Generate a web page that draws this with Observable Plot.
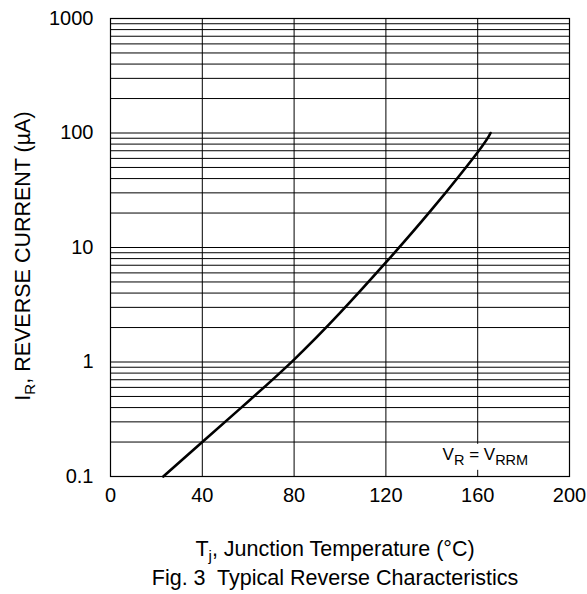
<!DOCTYPE html>
<html>
<head>
<meta charset="utf-8">
<script src="https://cdn.jsdelivr.net/npm/d3@7"></script>
<script src="https://cdn.jsdelivr.net/npm/@observablehq/plot@0.6"></script>
<style>
  html, body { margin: 0; padding: 0; background: #fff; }
  #chart { width: 587px; height: 594px; }
</style>
</head>
<body>
<div id="chart"></div>
<script>
// ---- data ----
const tempC     = [23,  40,    60,    80,   100,  120, 140,  160, 165.6];
const currentUA = [0.1, 0.200, 0.452, 1.05, 2.68, 7.4, 21.5, 68,  100];

const xTicks = [0, 40, 80, 120, 160, 200];
const yTicks = [0.1, 1, 10, 100, 1000];
const yTickLabels = ["0.1", "1", "10", "100", "1000"];
const gridDecades = [0.1, 1, 10, 100];
const gridMultipliers = [1, 2, 3, 4, 5, 6, 7, 8, 9];
const yGrid = gridDecades.flatMap(d => gridMultipliers.map(m => +(d * m).toPrecision(3))).concat([1000]);

const annotation = [{t: 144.7, i: 0.156, label: "VR = VRRM"}];

const FONT = "'Liberation Sans', Arial, Helvetica, sans-serif";

const svg = Plot.plot({
  width: 587,
  height: 594,
  marginLeft: 110,
  marginRight: 18,
  marginTop: 18,
  marginBottom: 118,
  style: {fontFamily: FONT, fontSize: "20px", color: "black", background: "white", overflow: "visible"},
  x: {domain: [0, 200]},
  y: {type: "log", domain: [0.1, 1000]},
  marks: [
    Plot.ruleY(yGrid, {stroke: "black", strokeWidth: 1}),
    Plot.ruleX(xTicks, {stroke: "black", strokeWidth: 1}),
    Plot.text(annotation, {x: "t", y: "i", text: "label", textAnchor: "start", fontSize: 17, fill: "black"}),
    Plot.frame({stroke: "black", strokeWidth: 1.2}),
    Plot.line(tempC, {x: tempC, y: currentUA, curve: "natural", stroke: "black", strokeWidth: 2.6}),
    Plot.axisX({ticks: xTicks, tickSize: 0, tickPadding: 11, fontSize: 20, label: null}),
    Plot.axisY({ticks: yTicks, tickSize: 0, tickPadding: 17, fontSize: 20, label: null,
                tickFormat: d => yTickLabels[yTicks.indexOf(d)]})
  ]
});

document.getElementById("chart").appendChild(svg);

// ---- annotation with subscripts and white box ----
const s = d3.select(svg);
s.selectAll("text").filter(function() { return this.textContent === "VR = VRRM"; }).each(function() {
  const t = d3.select(this);
  t.text(null).style("white-space", "pre");
  t.append("tspan").text("V");
  t.append("tspan").attr("font-size", "14.5px").attr("dy", "5px").text("R");
  t.append("tspan").attr("dy", "-5px").text(" = V");
  t.append("tspan").attr("font-size", "14.5px").attr("dy", "5px").text("RRM");
  const bb = this.getBBox();
  d3.select(this.parentNode).insert("rect", () => this)
    .attr("x", bb.x - 10).attr("y", bb.y - 1)
    .attr("width", bb.width + 20).attr("height", bb.height + 3)
    .attr("fill", "white")
    .attr("transform", this.getAttribute("transform"));
});

// ---- axis titles ----
const yTitle = s.append("text")
  .attr("transform", "translate(30,256) rotate(-90)")
  .attr("text-anchor", "middle")
  .attr("font-family", FONT).attr("font-size", "21.5px").attr("fill", "black")
  .style("white-space", "pre");
yTitle.append("tspan").text("I");
yTitle.append("tspan").attr("font-size", "15px").attr("dy", "5px").text("R");
yTitle.append("tspan").attr("dy", "-5px").text(", REVERSE CURRENT (\u00B5A)");

const xTitle = s.append("text")
  .attr("x", 335).attr("y", 556)
  .attr("text-anchor", "middle")
  .attr("font-family", FONT).attr("font-size", "21.5px").attr("fill", "black")
  .style("white-space", "pre");
xTitle.append("tspan").text("T");
xTitle.append("tspan").attr("font-size", "15px").attr("dy", "5px").text("j");
xTitle.append("tspan").attr("dy", "-5px").text(", Junction Temperature (\u00B0C)");

s.append("text")
  .attr("x", 335).attr("y", 585)
  .attr("text-anchor", "middle")
  .attr("font-family", FONT).attr("font-size", "21.5px").attr("fill", "black")
  .style("white-space", "pre")
  .text("Fig. 3  Typical Reverse Characteristics");
</script>
</body>
</html>
